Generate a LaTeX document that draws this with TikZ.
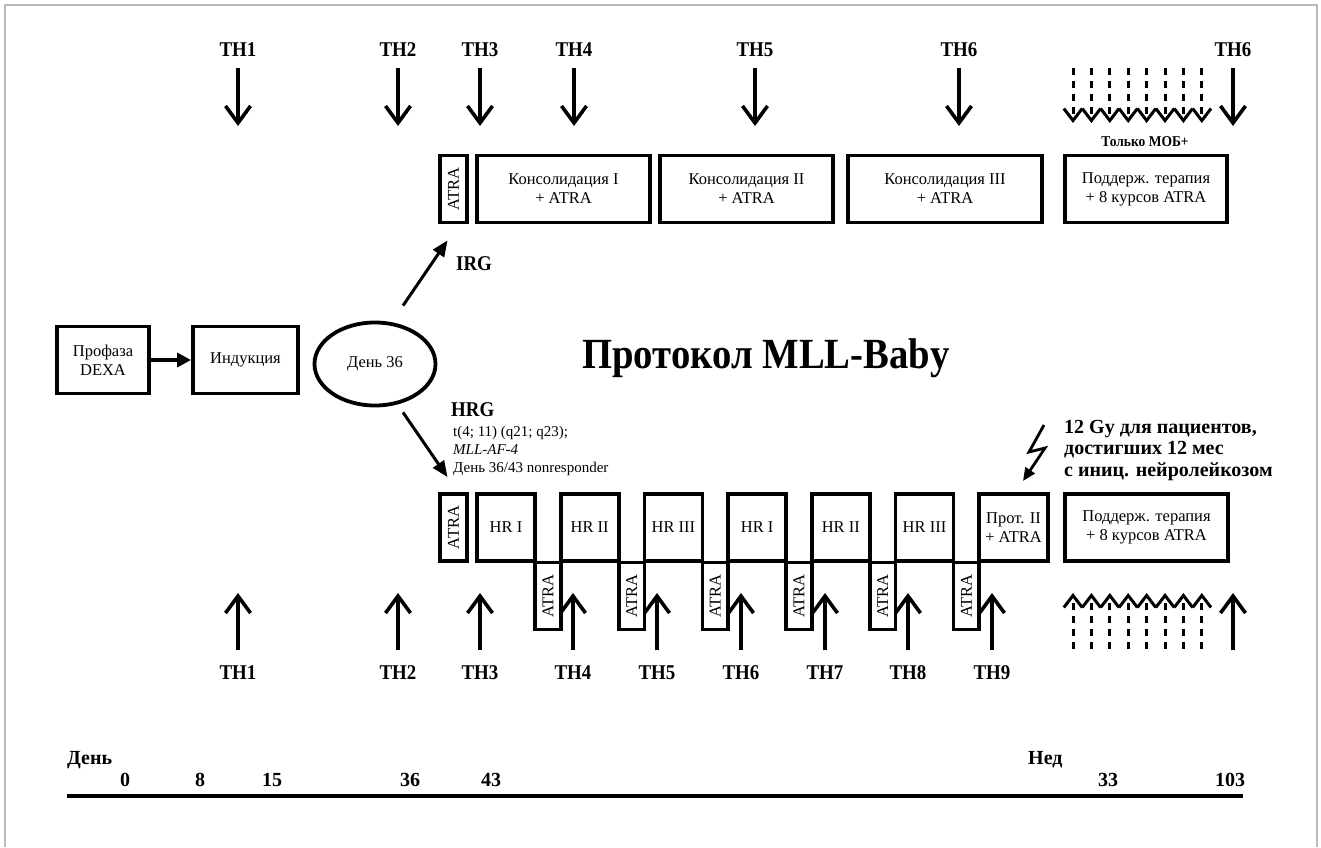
\documentclass[tikz,border=0pt]{standalone}
\usepackage{fontspec}
\usepackage{graphicx}
\setmainfont{Liberation Serif}
\newfontfamily\narrowserif[FakeStretch=0.9]{Liberation Serif}
\usetikzlibrary{arrows.meta,shapes.geometric,positioning}

\tikzset{
  phase/.style={draw, line width=3.8pt, minimum height=67pt, inner sep=0pt, align=center, font=\fontsize{16.5}{19}\selectfont},
  thlabel/.style={font=\narrowserif\bfseries\fontsize{21}{24}\selectfont},
  tharrow/.style={line width=3.6pt, -{Straight Barb[length=17pt,width=25pt]}},
  mobarrow/.style={line width=3pt, dash pattern=on 7pt off 6pt, -{Straight Barb[length=12pt,width=18.4pt]}},
  branch/.style={line width=3pt, -{Triangle[length=16pt,width=13pt]}},
  boldnote/.style={font=\narrowserif\bfseries\fontsize{21}{22}\selectfont, align=left, inner sep=0pt},
  axislabel/.style={font=\bfseries\fontsize{20}{22}\selectfont, inner sep=0pt},
}

\begin{document}
\begin{tikzpicture}[x=1pt,y=-1pt]
    \useasboundingbox (0,0) rectangle (1321,847);
    % Frame
    \draw[gray!55, line width=1.5pt] (5,847) -- (5,5) -- (1317,5) -- (1317,847);

    % Title
    \node[font=\narrowserif\bfseries\fontsize{43}{46}\selectfont] (title) at (766,358) {Протокол MLL-Baby};

    % Prephase, induction, day 36
    \node[phase, minimum width=92pt] (prophase) at (103,360) {Профаза\\DEXA};
    \node[phase, minimum width=105pt] (induction) at (245.5,360) {Индукция};
    \node[draw, ellipse, line width=3.8pt, minimum width=121pt, minimum height=83pt, font=\fontsize{16.5}{19}\selectfont] (day36) at (375,364) {День 36};
    \draw[line width=3.5pt, -{Triangle[length=14pt,width=14pt]}] (prophase) -- (induction);

    % Intermediate risk (IRG) branch
    \node[phase, minimum width=27pt] (atraU) at (453.5,189) {\rotatebox{90}{ATRA}};
    \node[phase, minimum width=173pt] (consI) at (563.5,189) {Консолидация I\\+ ATRA};
    \node[phase, minimum width=173pt] (consII) at (746.5,189) {Консолидация II\\+ ATRA};
    \node[phase, minimum width=194pt] (consIII) at (945,189) {Консолидация III\\+ ATRA};
    \node[phase, minimum width=162pt] (maintU) at (1146,189) {Поддерж. терапия\\+ 8 курсов ATRA};
    \node[boldnote, anchor=west] (irg) at (456,264) {IRG};
    \draw[branch] ([shift={(28,-15)}]day36.north) -- ([shift={(-6,16)}]atraU.south);

    % Top TH arrows
    \foreach \x/\t [count=\i] in {238/TH1, 398/TH2, 480/TH3, 574/TH4, 755/TH5, 959/TH6, 1233/TH6} {
        \coordinate (thU\i) at (\x,68);
        \node[thlabel, above=8pt of thU\i] (thUlabel\i) {\t};
        \draw[tharrow] (thU\i) -- ++(0,58);
    }
    \foreach \k in {0,...,7}
        \draw[mobarrow] (1073+18.4*\k,68) -- ++(0,55);
    \node[font=\narrowserif\bfseries\fontsize{15}{17}\selectfont] (mrd) at (1145,142) {Только МОБ+};

    % High risk (HRG) branch
    \node[phase, minimum width=27pt] (atraL) at (453.5,527.5) {\rotatebox{90}{ATRA}};
    \node[boldnote, anchor=west] (hrg) at (451,410) {HRG};
    \node[font=\fontsize{15}{18}\selectfont, align=left, anchor=north west, inner sep=0pt] (hrginfo) at (453,426)
        {t(4; 11) (q21; q23);\\\textit{MLL-AF-4}\\День 36/43 nonresponder};
    \draw[branch] ([shift={(28,5)}]day36.south) -- ([shift={(-6,-15)}]atraL.north);
    \foreach \hr [count=\i from 0] in {HR I, HR II, HR III, HR I, HR II, HR III} {
        \node[phase, minimum width=58pt] (hr\i) at ({506+83.7*\i},527.5) {\hr};
        \node[phase, minimum width=25.7pt] (atraH\i) at ({547.85+83.7*\i},596) {\rotatebox{90}{ATRA}};
    }
    \node[phase, minimum width=69pt] (prot) at (1013.5,527.5) {Прот. II\\+ ATRA};
    \node[phase, minimum width=163pt] (maintL) at (1146.5,527.5) {Поддерж. терапия\\+ 8 курсов ATRA};

    % Bottom TH arrows
    \foreach \x/\t [count=\i] in {238/TH1, 398/TH2, 480/TH3, 573/TH4, 657/TH5, 741/TH6, 825/TH7, 908/TH8, 992/TH9} {
        \coordinate (thL\i) at (\x,650);
        \draw[tharrow] (thL\i) -- ++(0,-57);
        \node[thlabel, below=12pt of thL\i] (thLlabel\i) {\t};
    }
    \coordinate (thLend) at (1233,650);
    \draw[tharrow] (thLend) -- ++(0,-57);
    \foreach \k in {0,...,7}
        \draw[mobarrow] (1073+18.4*\k,649) -- ++(0,-56);

    % Cranial irradiation
    \coordinate (bolt) at (1044,425);
    \draw[line width=2.8pt, -{Triangle[length=13pt,width=11pt]}] (bolt) -- ++(-15,27) -- ++(16,-4) -- ++(-22,33);
    \node[boldnote, font=\bfseries\fontsize{20}{21.5}\selectfont, anchor=north west] (gy) at (1064,420)
        {12 Gy для пациентов,\\достигших 12 мес\\с иниц. нейролейкозом};

    % Time axis
    \draw[line width=4.5pt] (67,796) -- (1243,796);
    \node[axislabel, anchor=west] (dayaxis) at (67,760) {День};
    \node[axislabel, anchor=west] (weekaxis) at (1028,760) {Нед};
    \foreach \x/\t [count=\i] in {125/0, 200/8, 272/15, 410/36, 491/43, 1108/33, 1230/103}
        \node[axislabel] (tick\i) at (\x,780) {\t};
\end{tikzpicture}
\end{document}
